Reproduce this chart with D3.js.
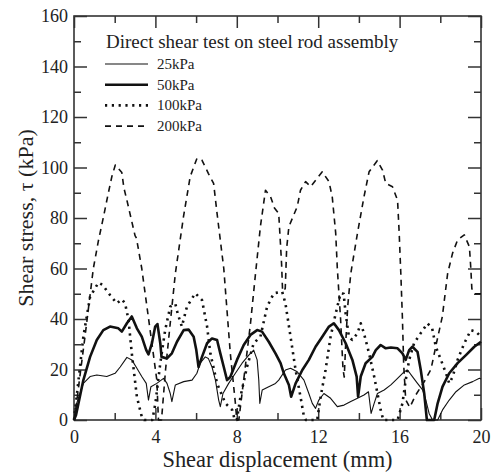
<!DOCTYPE html>
<meta charset="utf-8" />
<style>
  body {
    margin: 0;
    background: #fff;
  }
  svg text {
    font-family: "Liberation Serif", "Times New Roman", "DejaVu Serif", serif;
    fill: #222;
  }
  .axis text {
    font-size: 18px;
  }
  .axis line {
    stroke: #333;
    stroke-width: 1.5px;
  }
  .axis path {
    display: none;
  }
</style>
<div id="chart"></div>
<script src="https://d3js.org/d3.v7.min.js"></script>
<script>
  // DATA: [shear displacement (mm), shear stress (kPa)]
  const s25 = [
    [0, 0], [0.13, 6.6], [0.46, 14.5], [0.79, 17.2], [1.12, 17.8], [1.61, 17.2],
    [2.02, 18.5], [2.27, 21], [2.6, 24.8], [2.84, 23.8], [3.09, 20.5], [3.33, 17.2],
    [3.55, 14.5], [3.66, 7.9], [3.78, 13.2], [4.07, 14.5], [4.4, 16.5], [4.57, 14.5],
    [4.73, 10.5], [4.81, 7.3], [4.98, 13.9], [5.39, 15.2], [5.8, 15.8], [6.04, 18.5],
    [6.2, 22.5], [6.45, 25], [6.6, 24.4], [6.78, 21], [6.95, 15.8], [7.11, 7.9],
    [7.19, 5.3], [7.32, 10.5], [7.6, 14.5], [7.93, 18.5], [8.26, 22.5], [8.59, 25.7],
    [8.83, 27.7], [9.0, 23.8], [9.08, 15.8], [9.13, 6.6], [9.25, 11.9], [9.57, 13.2],
    [9.9, 14.5], [10.06, 15.8], [10.39, 19.8], [10.64, 20.5], [10.97, 19.1], [11.3, 15.8],
    [11.54, 10.5], [11.71, 6.6], [11.87, 4.6], [12.03, 7.9], [12.28, 10.5], [12.61, 8.6],
    [12.94, 5.3], [13.27, 5.9], [13.6, 7.3], [13.93, 8.6], [14.25, 9.9], [14.47, 11.2],
    [14.6, 2.6], [14.75, 6.6], [14.91, 10.5], [15.24, 11.9], [15.57, 13.9], [15.9, 16.5],
    [16.22, 19.1], [16.39, 19.8], [16.63, 17.2], [16.88, 14.5], [17.13, 11.9], [17.29, 7.9],
    [17.45, 2.6], [17.62, 0], [17.87, 0], [18.11, 4], [18.44, 7.9], [18.77, 11.2],
    [19.18, 13.9], [19.59, 15.2], [19.92, 16.5], [20, 16.2]
  ];
  const s50 = [
    [0, 0], [0.1, 2], [0.46, 15.8], [0.79, 25], [1.12, 31.7], [1.44, 35.6], [1.77, 37],
    [2.18, 36.3], [2.35, 35], [2.6, 38.3], [2.84, 41], [3.09, 36.3], [3.33, 33],
    [3.55, 27.7], [3.66, 26], [3.83, 30.4], [3.99, 37], [4.1, 38], [4.24, 30.4], [4.3, 25],
    [4.57, 24.4], [4.81, 26.4], [5.06, 31], [5.39, 35.6], [5.63, 35.8], [5.88, 33],
    [6.01, 27.7], [6.12, 21], [6.29, 25], [6.54, 30.4], [6.78, 32.3], [7.03, 31.7],
    [7.19, 26.4], [7.36, 21], [7.52, 15.8], [7.68, 17], [8.01, 23.8], [8.34, 29.7],
    [8.67, 33.7], [9.0, 35.6], [9.24, 35], [9.57, 31], [9.9, 26.4], [10.15, 22.5],
    [10.31, 18.5], [10.56, 13.9], [10.67, 9.2], [10.89, 14.5], [11.22, 19.8], [11.54, 23.8],
    [11.87, 29], [12.2, 33], [12.53, 37], [12.77, 38.3], [13.02, 35.6], [13.35, 30.4],
    [13.68, 23.8], [13.89, 17.2], [13.96, 9.2], [14.09, 17.2], [14.33, 22.5], [14.66, 25],
    [14.83, 27.7], [15.07, 29.7], [15.32, 28.4], [15.57, 28.7], [15.9, 28.4], [16.14, 26.4],
    [16.3, 23.8], [16.47, 27.7], [16.63, 29], [16.88, 27], [17.04, 19.8], [17.21, 10.5],
    [17.34, 0], [17.7, 0], [17.87, 6.6], [18.11, 13.2], [18.44, 18.5], [18.85, 22.5],
    [19.26, 25.7], [19.67, 29], [20, 31]
  ];
  const s100 = [
    [0, 0], [0.13, 9.2], [0.46, 33], [0.79, 48.8], [1.2, 54.4], [1.4, 53.5], [1.77, 49.5],
    [2.1, 46.2], [2.35, 47.8], [2.51, 46.2], [2.68, 39.6], [2.84, 26.4], [3.09, 9.2],
    [3.33, 1.3], [3.45, 0], [3.85, 0], [4.0, 6.6], [4.24, 22.5], [4.48, 35.6], [4.73, 44.9],
    [4.98, 46], [5.1, 42], [5.3, 37], [5.55, 44.9], [5.96, 50.2], [6.29, 47.5], [6.54, 37],
    [6.7, 26.4], [7.03, 14.5], [7.44, 6.6], [7.77, 4], [7.9, 0], [8.0, 0], [8.18, 9.2],
    [8.5, 21], [8.83, 30.4], [9.16, 33], [9.49, 44.9], [9.82, 50.2], [10.23, 50.8],
    [10.39, 46.2], [10.64, 33], [10.89, 19.8], [11.13, 9.2], [11.3, 1.3], [11.4, 0],
    [11.95, 0], [12.12, 9.2], [12.36, 19.8], [12.61, 33], [12.86, 42.2], [13.1, 50.2],
    [13.25, 50], [13.35, 42], [13.51, 33], [13.67, 31.7], [13.93, 34.3], [14.09, 38.3],
    [14.25, 34.3], [14.5, 26.4], [14.75, 17.2], [14.9, 11], [15.07, 4], [15.2, 0],
    [15.9, 0], [16.14, 6.6], [16.3, 15.8], [16.47, 23.8], [16.71, 30.4], [17.04, 34.4],
    [17.37, 38.3], [17.6, 36.3], [17.78, 29], [18.03, 23.8], [18.28, 18.5], [18.44, 14.5],
    [18.6, 17], [18.85, 23.8], [19.18, 30.4], [19.5, 35.6], [19.75, 35], [20, 33]
  ];
  const s200 = [
    [0, 0], [0.1, 5], [0.3, 18], [0.54, 33], [0.95, 60], [1.2, 71], [1.45, 80.5],
    [1.69, 90], [1.86, 96.4], [2.03, 101], [2.35, 98], [2.45, 92], [2.6, 87], [2.8, 80],
    [3.0, 73], [3.07, 72], [3.2, 66], [3.33, 60], [3.74, 35.6], [4.07, 15.8], [4.15, 0],
    [4.3, 0], [4.5, 20], [4.75, 40], [4.98, 58], [5.38, 80.5], [5.71, 96.4], [6.04, 103.6],
    [6.28, 103], [6.6, 97.7], [6.86, 93.7], [7.03, 81.8], [7.36, 60], [7.68, 26.5],
    [7.93, 6.7], [8.0, 0], [8.1, 0], [8.4, 20], [8.67, 38], [8.92, 58], [9.16, 76.6],
    [9.41, 91], [9.66, 88.4], [9.85, 84], [10.06, 81.8], [10.2, 62], [10.25, 51],
    [10.38, 52], [10.45, 68], [10.56, 76.6], [10.97, 84.5], [11.13, 91], [11.38, 94.4],
    [11.63, 92.4], [11.95, 95.7], [12.2, 98.3], [12.53, 94.4], [12.69, 88.4], [12.86, 74],
    [12.94, 60], [13.1, 40], [13.22, 20], [13.28, 17], [13.35, 30], [13.45, 45], [13.6, 58],
    [13.93, 74], [14.25, 88.4], [14.5, 98.3], [14.9, 102.7], [15.16, 99], [15.32, 93.7],
    [15.65, 92.4], [15.9, 87], [15.98, 74], [16.06, 58], [16.14, 40], [16.2, 22], [16.3, 8],
    [16.5, 5], [16.8, 10], [17.2, 15], [17.54, 20], [17.8, 30], [18.1, 41], [18.36, 58],
    [18.6, 66], [18.85, 71.3], [19.18, 73.3], [19.43, 68.6], [19.5, 60], [19.55, 52],
    [19.7, 50], [20, 50]
  ];

  const seriesNames = ["25kPa", "50kPa", "100kPa", "200kPa"];
  const xMajor = [0, 4, 8, 12, 16, 20];
  const xMinor = [2, 6, 10, 14, 18];
  const yMajor = [0, 20, 40, 60, 80, 100, 120, 140, 160];
  const yMinor = [10, 30, 50, 70, 90, 110, 130, 150];

  // styles per series
  const styles = [
    { width: 1.1, dash: null },
    { width: 2.6, dash: null },
    { width: 2.6, dash: "2.2,4.6" },
    { width: 1.6, dash: "6,5" },
  ];
  const allSeries = [s25, s50, s100, s200];

  // CONTAINER
  const margin = { top: 16, right: 14, bottom: 53, left: 74 };
  const width = 495 - margin.left - margin.right;
  const height = 473 - margin.top - margin.bottom;

  const svg = d3
    .select("#chart")
    .append("svg")
    .attr("width", 495)
    .attr("height", 473)
    .append("g")
    .attr("transform", "translate(" + margin.left + "," + margin.top + ")");

  const x = d3.scaleLinear().domain([0, 20]).range([0, width]);
  const y = d3.scaleLinear().domain([0, 160]).range([height, 0]);

  // AXES (ticks pointing inward on all four sides)
  svg.append("g").attr("class", "axis")
    .attr("transform", "translate(0," + height + ")")
    .call(d3.axisBottom(x).tickValues(xMajor).tickSize(-12).tickPadding(10).tickFormat(d3.format("d")));
  svg.append("g").attr("class", "axis")
    .attr("transform", "translate(0," + height + ")")
    .call(d3.axisBottom(x).tickValues(xMinor).tickSize(-7).tickFormat(""));
  svg.append("g").attr("class", "axis")
    .call(d3.axisTop(x).tickValues(xMajor).tickSize(-12).tickFormat(""));
  svg.append("g").attr("class", "axis")
    .call(d3.axisTop(x).tickValues(xMinor).tickSize(-7).tickFormat(""));

  svg.append("g").attr("class", "axis")
    .call(d3.axisLeft(y).tickValues(yMajor).tickSize(-13).tickPadding(6).tickFormat(d3.format("d")));
  svg.append("g").attr("class", "axis")
    .call(d3.axisLeft(y).tickValues(yMinor).tickSize(-7).tickFormat(""));
  svg.append("g").attr("class", "axis")
    .attr("transform", "translate(" + width + ",0)")
    .call(d3.axisRight(y).tickValues(yMajor).tickSize(-13).tickFormat(""));
  svg.append("g").attr("class", "axis")
    .attr("transform", "translate(" + width + ",0)")
    .call(d3.axisRight(y).tickValues(yMinor).tickSize(-7).tickFormat(""));

  // FRAME
  svg.append("rect")
    .attr("width", width)
    .attr("height", height)
    .attr("fill", "none")
    .attr("stroke", "#333")
    .attr("stroke-width", 1.6);

  // AXIS TITLES
  svg.append("text")
    .attr("x", width / 2 + 0)
    .attr("y", height + 47)
    .attr("text-anchor", "middle")
    .style("font-size", "22.4px")
    .text("Shear displacement (mm)");

  svg.append("text")
    .attr("transform", "rotate(-90)")
    .attr("x", -height / 2)
    .attr("y", -41)
    .attr("text-anchor", "middle")
    .style("font-size", "22px")
    .text("Shear stress, \u03c4 (kPa)");

  // LINES
  const line = d3.line()
    .x((d) => x(d[0]))
    .y((d) => y(d[1]));

  allSeries.forEach((s, i) => {
    svg.append("path")
      .attr("fill", "none")
      .attr("stroke", "#111")
      .attr("stroke-width", styles[i].width)
      .attr("stroke-linejoin", "round")
      .attr("stroke-dasharray", styles[i].dash)
      .attr("d", line(s));
  });

  // LEGEND
  svg.append("text")
    .attr("x", 32)
    .attr("y", 32)
    .style("font-size", "19px")
    .text("Direct shear test on steel rod assembly");

  const legend = svg.selectAll(".legend")
    .data(seriesNames)
    .enter()
    .append("g")
    .attr("class", "legend")
    .attr("transform", (d, i) => "translate(31," + (48 + i * 20.7) + ")");

  legend.append("line")
    .attr("x1", 0)
    .attr("x2", 43)
    .attr("stroke", "#111")
    .attr("stroke-width", (d, i) => styles[i].width)
    .attr("stroke-dasharray", (d, i) => styles[i].dash);

  legend.append("text")
    .attr("x", 52)
    .attr("y", 5)
    .style("font-size", "15px")
    .text((d) => d);
</script>
